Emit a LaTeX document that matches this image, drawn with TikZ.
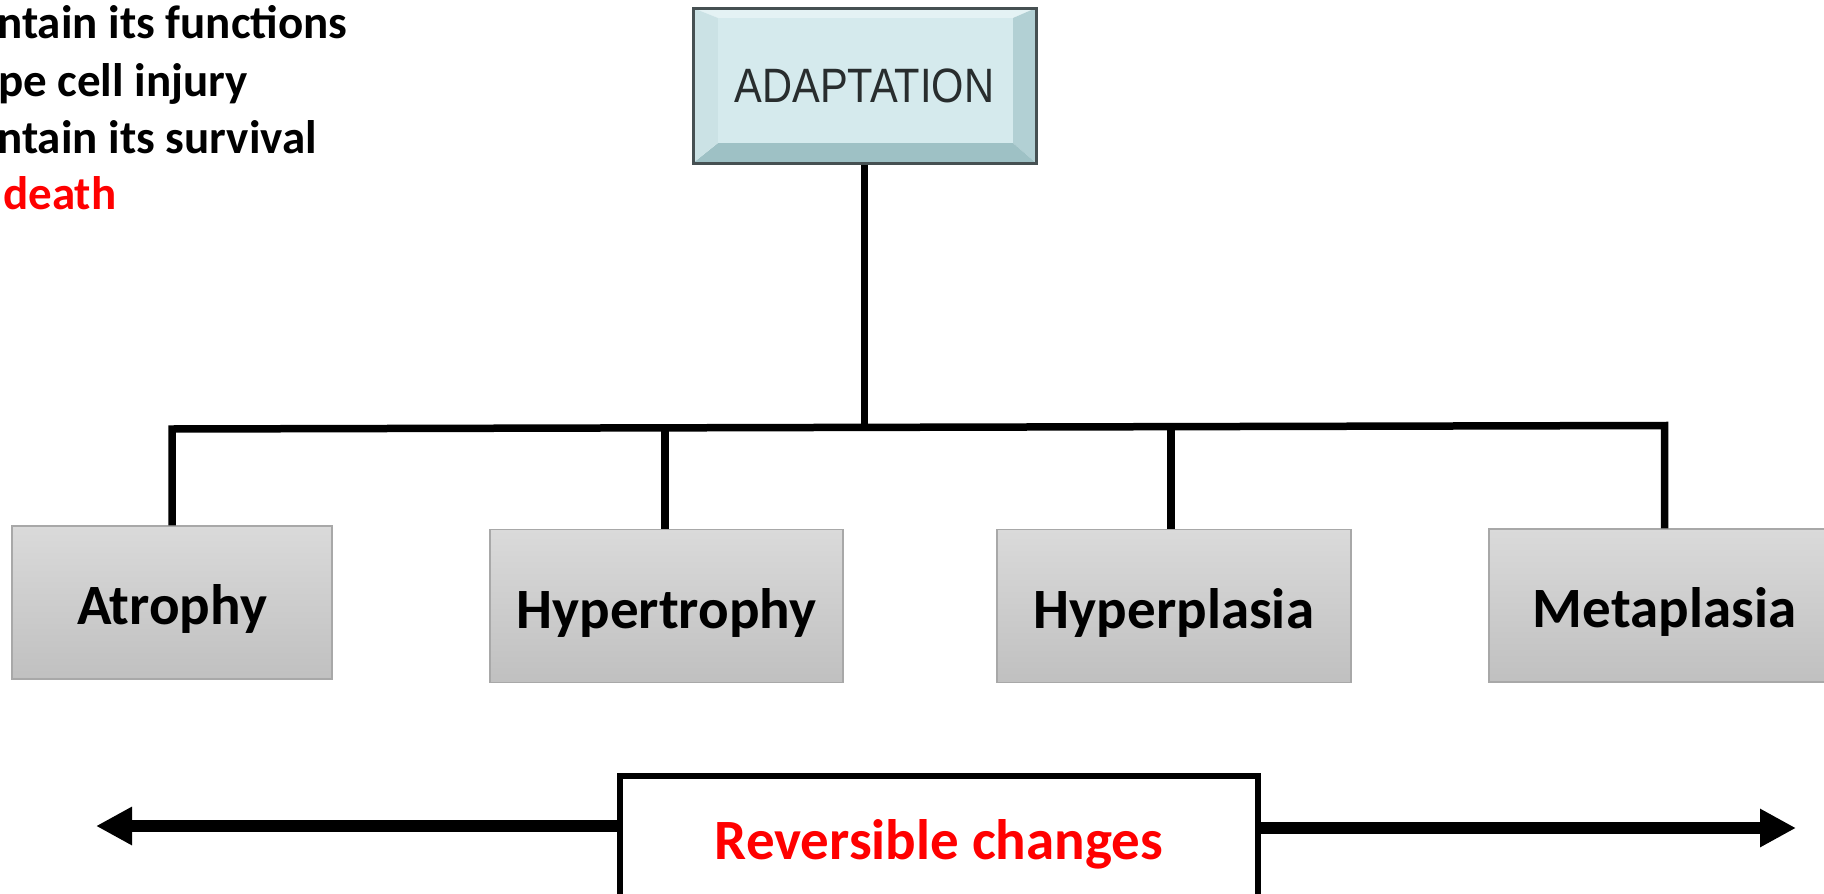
\documentclass[tikz,border=0pt]{standalone}
\usepackage{fontspec}
\usetikzlibrary{arrows.meta}
\newfontfamily\carlito{Carlito}
\newfontfamily\arialfont{Liberation Sans}
\definecolor{faceC}{RGB}{213,234,237}
\definecolor{topB}{RGB}{228,242,244}
\definecolor{leftB}{RGB}{203,226,229}
\definecolor{rightB}{RGB}{178,208,212}
\definecolor{botB}{RGB}{158,193,197}
\definecolor{bordC}{RGB}{70,80,82}
\definecolor{txtC}{RGB}{40,45,46}
\definecolor{gTop}{RGB}{218,218,218}
\definecolor{gBot}{RGB}{192,192,192}
\definecolor{gBorder}{RGB}{168,168,168}
\definecolor{redT}{RGB}{255,0,0}
\tikzset{
  conn/.style={line width=7.5pt, black},
  gbox/.style={draw=gBorder, line width=1.5pt, top color=gTop, bottom color=gBot,
    minimum height=153pt, inner sep=0pt,
    font=\carlito\bfseries\fontsize{57}{68}\selectfont, text height=44pt, text depth=0pt},
  sidetext/.style={anchor=base west, inner sep=0pt, font=\carlito\bfseries\fontsize{47}{56}\selectfont},
  arr/.style={line width=12pt, -{Triangle[length=36pt,width=36pt]}}
}
\begin{document}
\begin{tikzpicture}[x=1pt,y=-1pt]
\useasboundingbox (0,0) rectangle (1824,894);
% side text
\node[sidetext] (t1) at (-3,38) {ntain its functions};
\node[sidetext] (t2) at (-2,96) {pe cell injury};
\node[sidetext] (t3) at (-3,153) {ntain its survival};
\node[sidetext, text=redT] (t4) at (3,209) {death};
% ADAPTATION bevel box
\coordinate (o1) at (693,8);
\coordinate (o2) at (1036,8);
\coordinate (o3) at (1036,163);
\coordinate (o4) at (693,163);
\coordinate (i1) at (718,18);
\coordinate (i2) at (1013,18);
\coordinate (i3) at (1013,143);
\coordinate (i4) at (718,143);
\fill[topB] (o1) -- (o2) -- (i2) -- (i1) -- cycle;
\fill[rightB] (o2) -- (o3) -- (i3) -- (i2) -- cycle;
\fill[botB] (o3) -- (o4) -- (i4) -- (i3) -- cycle;
\fill[leftB] (o4) -- (o1) -- (i1) -- (i4) -- cycle;
\fill[faceC] (i1) rectangle (i3);
\node[draw=bordC, line width=3pt, minimum width=343pt, minimum height=155pt, inner sep=0pt,
  text=txtC, font=\arialfont\fontsize{41.6}{50}\selectfont] (adapt) at (864.5,85.5)
  {\scalebox{1}[1.16]{ADAPTATION}};
% category boxes
\node[gbox, minimum width=320pt] (atro) at (172,602.5) {Atrophy};
\node[gbox, minimum width=353pt] (hyt) at (666.5,606) {Hypertrophy};
\node[gbox, minimum width=354pt] (hyp) at (1174,606) {Hyperplasia};
\node[gbox, minimum width=351pt] (meta) at (1664.5,605.5) {Metaplasia};
% connectors
\coordinate (hl) at (172,429);
\coordinate (hr) at (1664.5,425.5);
\coordinate (hm) at (864.5,427);
\coordinate (jt) at (665,428);
\coordinate (jp) at (1171,426.5);
\draw[conn] (adapt.south) -- (hm);
\draw[conn] (atro.north) -- (hl) -- (hr) -- (meta.north);
\draw[conn] (jt) -- (jt |- hyt.north);
\draw[conn] (jp) -- (jp |- hyp.north);
% reversible changes
\node[draw=black, line width=6.5pt, fill=white, minimum width=638pt, minimum height=122pt, inner sep=0pt,
  text=redT, font=\carlito\bfseries\fontsize{57}{68}\selectfont, text height=44pt, text depth=0pt]
  (rev) at (939,837) {Reversible changes};
\coordinate (ltip) at (96,826);
\coordinate (rtip) at (1796,828);
\draw[arr] (rev.west |- ltip) -- (ltip);
\draw[arr] (rev.east |- rtip) -- (rtip);
\end{tikzpicture}
\end{document}
